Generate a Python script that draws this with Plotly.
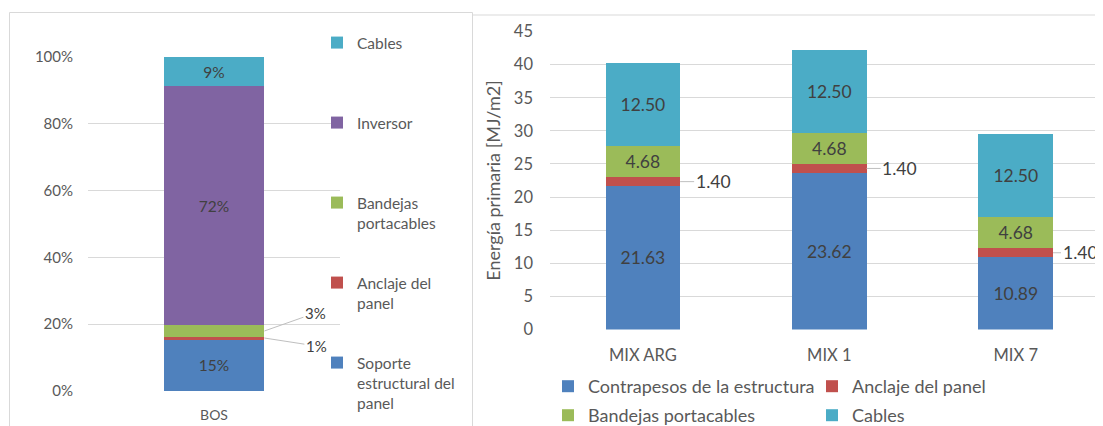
import plotly.graph_objects as go

# The page body has an 8px default margin; coordinates below are written in
# reference-screen pixels and converted to figure paper coordinates.
OFF = 8
W, H = 1103 - OFF, 426 - OFF
FONT = "Lato"

# ---------------- data ----------------
# Left chart: BOS composition (%)
bos_cat = ["BOS"]
bos_series = ["Soporte estructural del panel", "Anclaje del panel",
              "Bandejas portacables", "Inversor", "Cables"]
bos_legend = ["Soporte<br>estructural del<br>panel", "Anclaje del<br>panel",
              "Bandejas<br>portacables", "Inversor", "Cables"]
bos_values = [15.4, 0.9, 3.3, 71.5, 8.9]

# Right chart: primary energy (MJ/m2)
mix_cats = ["MIX ARG", "MIX 1", "MIX 7"]
contrapesos = [21.63, 23.62, 10.89]
anclaje = [1.40, 1.40, 1.40]
bandejas = [4.68, 4.68, 4.68]
cables = [12.50, 12.50, 12.50]
mix_series = ["Contrapesos de la estructura", "Anclaje del panel",
              "Bandejas portacables", "Cables"]

C_BLUE, C_RED, C_GREEN, C_PURPLE, C_CYAN = "#4F81BD", "#C0504D", "#9BBB59", "#8064A2", "#4BACC6"
bos_colors = [C_BLUE, C_RED, C_GREEN, C_PURPLE, C_CYAN]
mix_colors = [C_BLUE, C_RED, C_GREEN, C_CYAN]

TXT = "#404040"
TICK = "#595959"
GRID = "#d9d9d9"

def px_x(p):
    return (p - OFF) / W

def px_y(p):
    return 1 - (p - OFF) / H

fig = go.Figure()

# ---------------- left chart ----------------
inside_left = [True, False, False, True, True]
left_legend_tops = [346, 266, 186, 106, 26]
for i, (name, val, col) in enumerate(zip(bos_series, bos_values, bos_colors)):
    lg = "legend%d" % (3 + i)
    fig.add_trace(go.Bar(
        x=bos_cat, y=[val], name=bos_legend[i], marker=dict(color=col, line=dict(width=0)),
        width=0.4, xaxis="x", yaxis="y", legend=lg,
        text=[f"{val:.0f}%" if inside_left[i] else ""], textposition="inside",
        insidetextanchor="middle", textangle=0,
        textfont=dict(family=FONT, size=15.5, color=TXT),
    ))
    fig.update_layout({lg: dict(
        x=px_x(317), xanchor="left", y=px_y(left_legend_tops[i]), yanchor="top",
        orientation="v", valign="top", bgcolor="rgba(0,0,0,0)",
        font=dict(family=FONT, size=15.5, color=TICK),
    )})

# leader-line labels for small left segments
cum = 0
cums = []
for v in bos_values:
    cums.append((cum, cum + v))
    cum += v
fig.add_annotation(x=0.2, y=(cums[2][0] + cums[2][1]) / 2, xref="x", yref="y",
                   text=f"{bos_values[2]:.0f}%", showarrow=True, arrowhead=0,
                   arrowwidth=1, arrowcolor="#bfbfbf", ax=51, ay=-18,
                   font=dict(family=FONT, size=15, color=TXT))
fig.add_annotation(x=0.2, y=(cums[1][0] + cums[1][1]) / 2, xref="x", yref="y",
                   text=f"{bos_values[1]:.0f}%", showarrow=True, arrowhead=0,
                   arrowwidth=1, arrowcolor="#bfbfbf", ax=52, ay=8,
                   font=dict(family=FONT, size=15, color=TXT))

# ---------------- right chart ----------------
mix_data = [contrapesos, anclaje, bandejas, cables]
mix_legends = ["legend", "legend", "legend2", "legend2"]
for i, (name, vals, col) in enumerate(zip(mix_series, mix_data, mix_colors)):
    fig.add_trace(go.Bar(
        x=mix_cats, y=vals, name=name, marker=dict(color=col, line=dict(width=0)),
        width=0.4, xaxis="x2", yaxis="y2", legend=mix_legends[i],
        text=["" if i == 1 else f"{v:.2f}" for v in vals], textposition="inside",
        insidetextanchor="middle", textangle=0,
        textfont=dict(family=FONT, size=17.5, color=TXT),
    ))

label_dx = [33, 33, 27]  # leader-line label offsets (pixels)
for j, cat in enumerate(mix_cats):
    mid = contrapesos[j] + anclaje[j] / 2
    fig.add_annotation(x=j + 0.2, y=mid, xref="x2", yref="y2",
                       text=f"{anclaje[j]:.2f}", showarrow=True, arrowhead=0,
                       arrowwidth=1, arrowcolor="#bfbfbf", ax=label_dx[j], ay=0,
                       font=dict(family=FONT, size=17.5, color=TXT))

fig.update_layout(
    width=W, height=H, margin=dict(l=0, r=0, t=0, b=0, autoexpand=False),
    paper_bgcolor="white", plot_bgcolor="rgba(0,0,0,0)",
    barmode="stack", showlegend=True,
    font=dict(family=FONT, color=TICK),
    xaxis=dict(domain=[px_x(88), px_x(340)], anchor="y", range=[-0.5, 0.5],
               showgrid=False, zeroline=False, showline=False, ticks="",
               ticklabelstandoff=14, tickfont=dict(family=FONT, size=14, color=TICK),
               fixedrange=True),
    yaxis=dict(domain=[px_y(391), px_y(56.7)], anchor="x", range=[0, 100], dtick=20,
               ticksuffix="%", showgrid=True, gridcolor=GRID, gridwidth=1,
               zeroline=False, showline=False, ticks="", ticklabelstandoff=14,
               tickfont=dict(family=FONT, size=15, color=TICK)),
    xaxis2=dict(domain=[px_x(550), px_x(1103)], anchor="y2", range=[-0.498, 2.468],
                showgrid=False, zeroline=False, showline=False, ticks="",
                ticklabelstandoff=14, tickfont=dict(family=FONT, size=16.5, color=TICK)),
    yaxis2=dict(domain=[px_y(329.5), px_y(31.5)], anchor="x2", range=[0, 45], dtick=5,
                showgrid=True, gridcolor=GRID, gridwidth=1, zeroline=False,
                showline=False, ticks="", ticklabelstandoff=16,
                tickfont=dict(family=FONT, size=16.5, color=TICK),
                title=dict(text="Energía primaria [MJ/m2]", standoff=8,
                           font=dict(family=FONT, size=18, color=TICK))),
    legend=dict(x=px_x(548), xanchor="left", y=px_y(368), yanchor="top",
                orientation="h", entrywidth=219, entrywidthmode="pixels",
                traceorder="normal",
                bgcolor="rgba(0,0,0,0)", font=dict(family=FONT, size=18, color=TICK)),
    legend2=dict(x=px_x(548), xanchor="left", y=px_y(397), yanchor="top",
                 orientation="h", entrywidth=219, entrywidthmode="pixels",
                 traceorder="normal",
                 bgcolor="rgba(0,0,0,0)", font=dict(family=FONT, size=18, color=TICK)),
)

# panel borders
fig.add_shape(type="rect", xref="paper", yref="paper",
              x0=px_x(9.5), x1=px_x(472.5), y0=px_y(440), y1=px_y(12.5),
              line=dict(color="#d9d9d9", width=1), layer="below")
fig.add_shape(type="line", xref="paper", yref="paper",
              x0=px_x(472.5), x1=px_x(1115), y0=px_y(15), y1=px_y(15),
              line=dict(color="#d9d9d9", width=1), layer="below")

fig.write_html("out.html")
